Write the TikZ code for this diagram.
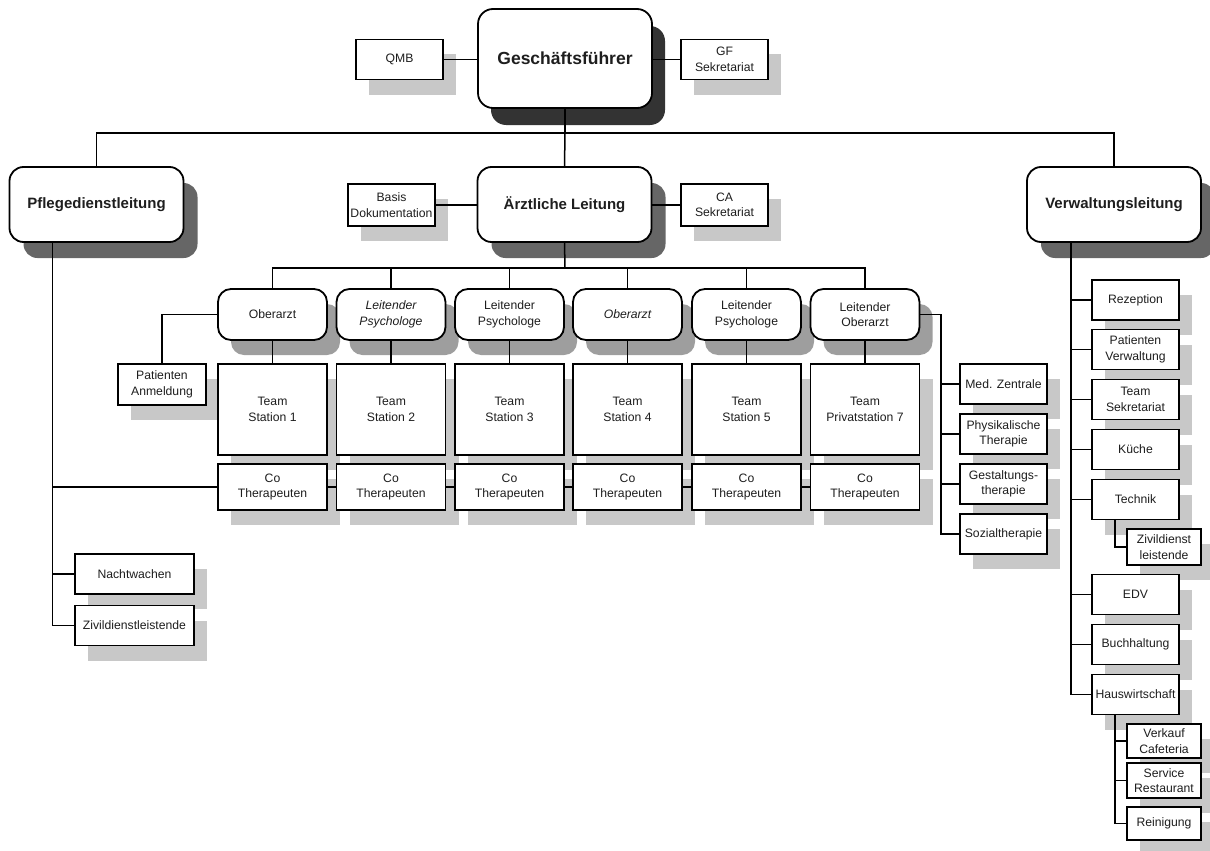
\documentclass[tikz,border=0pt]{standalone}
\usepackage{fontspec}
\setmainfont{Liberation Sans}
\usetikzlibrary{shadows}
\definecolor{shA}{HTML}{333333}
\definecolor{shB}{HTML}{666666}
\definecolor{shC}{HTML}{9E9E9E}
\definecolor{shD}{HTML}{C8C8C8}
\definecolor{txt}{HTML}{1E1E1E}
\tikzset{
  base/.style={draw=black, fill=white, line width=1.8pt, align=center, inner sep=1pt, outer sep=0pt, text=txt},
  small/.style={font=\fontsize{12.2}{15.5}\selectfont},
  topbox/.style={base, rounded corners=15pt, minimum width=174pt, minimum height=99pt,
    font=\fontsize{17.5}{20}\selectfont\bfseries,
    general shadow={fill=shA, shadow xshift=13pt, shadow yshift=-17pt}},
  midbox/.style={base, rounded corners=14pt, minimum width=174pt, minimum height=75pt,
    font=\fontsize{15}{18}\selectfont\bfseries,
    general shadow={fill=shB, shadow xshift=14pt, shadow yshift=-16pt}},
  headbox/.style={base, small, rounded corners=13pt, minimum width=109pt, minimum height=51pt,
    general shadow={fill=shC, shadow xshift=13pt, shadow yshift=-15pt}},
  rbox/.style={base, small, minimum width=87pt, minimum height=40pt,
    general shadow={fill=shD, shadow xshift=13pt, shadow yshift=-15pt}},
  teambox/.style={rbox, minimum width=109pt, minimum height=91pt},
  cobox/.style={rbox, minimum width=109pt, minimum height=46pt},
  subbox/.style={rbox, minimum width=74pt, minimum height=34pt},
  widebox/.style={rbox, minimum width=119pt, minimum height=40pt},
  conn/.style={draw=black, line width=1.5pt},
}
\begin{document}
\begin{tikzpicture}[x=1pt,y=-1pt]
\useasboundingbox (0,0) rectangle (1210,851);
% top
\node[topbox] (gf) at (565,58.5) {Geschäftsführer};
\node[rbox] (qmb) at (399.5,59.5) {QMB};
\node[rbox] (gfs) at (724.5,59.5) {GF\\Sekretariat};
% level 2
\node[midbox] (pdl) at (96.5,204.5) {Pflegedienstleitung};
\node[midbox] (al) at (564.5,204.5) {Ärztliche Leitung};
\node[midbox] (vl) at (1114,204.5) {Verwaltungsleitung};
\node[rbox, minimum height=42pt] (bd) at (391.5,205) {Basis\\Dokumentation};
\node[rbox, minimum height=42pt] (ca) at (724.5,205) {CA\\Sekretariat};
% heads
\node[headbox] (h1) at (272.5,314.5) {Oberarzt};
\node[headbox] (h2) at (391,314.5) {\itshape Leitender\\\itshape Psychologe};
\node[headbox] (h3) at (509.5,314.5) {Leitender\\Psychologe};
\node[headbox] (h4) at (627.5,314.5) {\itshape Oberarzt};
\node[headbox] (h5) at (746.5,314.5) {Leitender\\Psychologe};
\node[headbox] (h6) at (865,314.5) {Leitender\\Oberarzt};
% patienten anmeldung
\node[rbox, minimum width=88pt, minimum height=41pt] (pa) at (162,384.5) {Patienten\\Anmeldung};
% teams
\node[teambox] (t1) at (272.5,409.5) {Team\\Station 1};
\node[teambox] (t2) at (391,409.5) {Team\\Station 2};
\node[teambox] (t3) at (509.5,409.5) {Team\\Station 3};
\node[teambox] (t4) at (627.5,409.5) {Team\\Station 4};
\node[teambox] (t5) at (746.5,409.5) {Team\\Station 5};
\node[teambox] (t6) at (865,409.5) {Team\\Privatstation 7};
% co
\node[cobox] (c1) at (272.5,487) {Co\\Therapeuten};
\node[cobox] (c2) at (391,487) {Co\\Therapeuten};
\node[cobox] (c3) at (509.5,487) {Co\\Therapeuten};
\node[cobox] (c4) at (627.5,487) {Co\\Therapeuten};
\node[cobox] (c5) at (746.5,487) {Co\\Therapeuten};
\node[cobox] (c6) at (865,487) {Co\\Therapeuten};
% therapies
\node[rbox] (mz) at (1003.5,384) {Med. Zentrale};
\node[rbox] (pt) at (1003.5,434) {Physikalische\\Therapie};
\node[rbox] (gt) at (1003.5,484) {Gestaltungs-\\therapie};
\node[rbox] (st) at (1003.5,534) {Sozialtherapie};
% left column
\node[widebox] (nw) at (134.5,574) {Nachtwachen};
\node[widebox] (zd) at (134.5,625.5) {Zivildienstleistende};
% right column
\node[rbox] (rez) at (1135.5,300) {Rezeption};
\node[rbox] (pv) at (1135.5,349.5) {Patienten\\Verwaltung};
\node[rbox] (ts) at (1135.5,399.5) {Team\\Sekretariat};
\node[rbox] (ku) at (1135.5,449.5) {Küche};
\node[rbox] (te) at (1135.5,499.5) {Technik};
\node[subbox, minimum height=36pt] (zl) at (1164,547) {Zivildienst\\leistende};
\node[rbox] (edv) at (1135.5,594.5) {EDV};
\node[rbox] (bh) at (1135.5,644.5) {Buchhaltung};
\node[rbox] (hw) at (1135.5,694.5) {Hauswirtschaft};
\node[subbox] (vc) at (1164,741) {Verkauf\\Cafeteria};
\node[subbox, minimum height=35pt] (sr) at (1164,780.5) {Service\\Restaurant};
\node[subbox, minimum height=33pt] (rn) at (1164,823.5) {Reinigung};
% helper coordinates
\coordinate (bus1) at (565,133);
\coordinate (bus2) at (565,268);
\coordinate (lv) at ([xshift=43pt]pdl.south west);
\coordinate (rv) at ([xshift=44pt]vl.south west);
\coordinate (rc) at (941,314.5);
\coordinate (tv) at ([xshift=23pt]te.south west);
\coordinate (hv) at ([xshift=23pt]hw.south west);
% connectors
\draw[conn] (qmb.east) -- (qmb.east -| gf.west);
\draw[conn] (gfs.west) -- (gfs.west -| gf.east);
\draw[conn] (gf.south) -- (bus1);
\draw[conn] (pdl.north) |- (bus1) -| (vl.north);
\draw[conn] (bus1) -- (al.north);
\draw[conn] (bd.east) -- (bd.east -| al.west);
\draw[conn] (ca.west) -- (ca.west -| al.east);
\draw[conn] (al.south) -- (bus2);
\draw[conn] (h1.north) |- (bus2) -| (h6.north);
\foreach \i in {2,3,4,5} {\draw[conn] (h\i.north) -- (h\i.north |- bus2);}
\foreach \i in {1,...,6} {\draw[conn] (h\i.south) -- (t\i.north);}
\draw[conn] (h1.west) -| (pa.north);
\draw[conn] (h6.east) -| (rc |- st.west) -- (st.west);
\foreach \n in {mz,pt,gt} {\draw[conn] (rc |- \n.west) -- (\n.west);}
\draw[conn] (lv) |- (zd.west);
\draw[conn] (lv |- nw.west) -- (nw.west);
\draw[conn] (lv |- c1.west) -- (c1.west);
\draw[conn] (c1.east) -- (c2.west);
\draw[conn] (c2.east) -- (c3.west);
\draw[conn] (c3.east) -- (c4.west);
\draw[conn] (c4.east) -- (c5.west);
\draw[conn] (c5.east) -- (c6.west);
\draw[conn] (rv) |- (hw.west);
\foreach \n in {rez,pv,ts,ku,te,edv,bh} {\draw[conn] (rv |- \n.west) -- (\n.west);}
\draw[conn] (tv) |- (zl.west);
\draw[conn] (hv) |- (rn.west);
\draw[conn] (hv |- vc.west) -- (vc.west);
\draw[conn] (hv |- sr.west) -- (sr.west);
\end{tikzpicture}
\end{document}
